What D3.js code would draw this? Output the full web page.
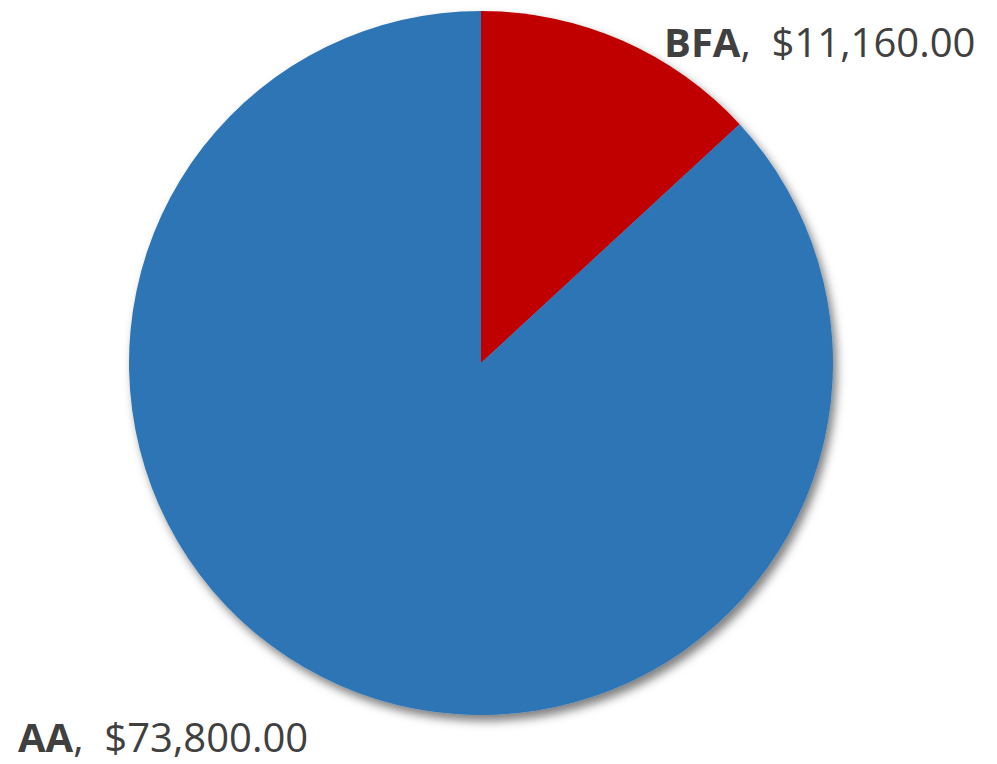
<!DOCTYPE html>
<html lang="en">
<head>
    <meta charset="UTF-8">
    <title>Pie Chart</title>
    <style>
        body { margin: 0; background: #fff; }
    </style>
</head>
<body>
<script src="https://d3js.org/d3.v7.min.js"></script>
<script>
    // categories and values
    const categories = ["BFA", "AA"];
    const values = [11160, 73800];
    const colors = ["#C00000", "#2E75B6"];

    const width = 997;
    const height = 764;
    const cx = 481;
    const cy = 363;
    const radius = 352;

    const data = categories.map((c, i) => ({name: c, value: values[i]}));

    const svg = d3.select("body")
        .append("svg")
        .attr("width", width)
        .attr("height", height);

    // soft drop shadow like the original
    const defs = svg.append("defs");
    const filter = defs.append("filter")
        .attr("id", "shadow")
        .attr("x", "-10%").attr("y", "-10%")
        .attr("width", "120%").attr("height", "120%");
    filter.append("feDropShadow")
        .attr("dx", 4).attr("dy", 6)
        .attr("stdDeviation", 5)
        .attr("flood-color", "#000")
        .attr("flood-opacity", 0.5);

    const pie = d3.pie()
        .sort(null)
        .value(d => d.value);

    const arc = d3.arc()
        .innerRadius(0)
        .outerRadius(radius);

    const g = svg.append("g")
        .attr("transform", `translate(${cx},${cy})`)
        .attr("filter", "url(#shadow)");

    g.selectAll("path")
        .data(pie(data))
        .join("path")
        .attr("d", arc)
        .attr("fill", (d, i) => colors[i]);

    // labels
    const fmt = d3.format("$,.2f");
    const labelPos = [
        {x: 664, y: 57},
        {x: 18, y: 752}
    ];

    const labels = svg.selectAll("text.label")
        .data(data)
        .join("text")
        .attr("class", "label")
        .attr("x", (d, i) => labelPos[i].x)
        .attr("y", (d, i) => labelPos[i].y)
        .attr("font-family", "Open Sans, sans-serif")
        .attr("font-size", 40)
        .attr("fill", "#404040");

    labels.append("tspan")
        .attr("font-weight", "bold")
        .text(d => d.name);
    labels.append("tspan")
        .text(d => ",  " + fmt(d.value))
        .attr("xml:space", "preserve");
</script>
</body>
</html>
